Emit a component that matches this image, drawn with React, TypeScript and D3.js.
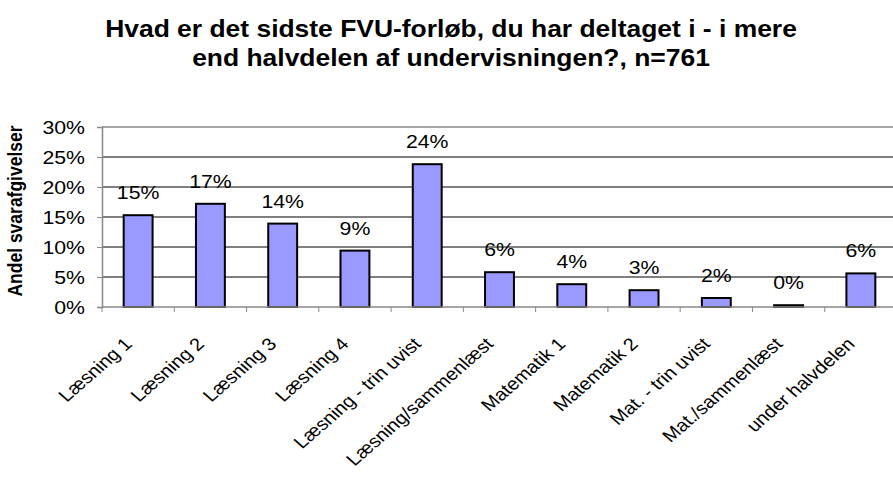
import React from 'react';
import * as d3 from 'd3';

const categories = [
  'Læsning 1',
  'Læsning 2',
  'Læsning 3',
  'Læsning 4',
  'Læsning - trin uvist',
  'Læsning/sammenlæst',
  'Matematik 1',
  'Matematik 2',
  'Mat. - trin uvist',
  'Mat./sammenlæst',
  'under halvdelen',
];
const values = [15.3, 17.2, 13.9, 9.4, 23.8, 5.8, 3.8, 2.8, 1.5, 0.3, 5.6];
const valueLabels = ['15%', '17%', '14%', '9%', '24%', '6%', '4%', '3%', '2%', '0%', '6%'];
const yTicks = [0, 5, 10, 15, 20, 25, 30];
const titleLines = [
  'Hvad er det sidste FVU-forløb, du har deltaget i - i mere',
  'end halvdelen af undervisningen?, n=761',
];

const W = 893;
const H = 486;
const FONT = 'Liberation Sans, Arial, sans-serif';
// the original picture is a bit wider than tall, so glyphs get stretched sideways
const SX = 1.15;

const App = () => {
  const ref = React.useRef<SVGSVGElement>(null);

  React.useEffect(() => {
    const svg = d3.select(ref.current);
    svg.selectAll('*').remove();

    const left = 102;
    const right = 897;
    const top = 127;
    const bottom = 307;

    const x = d3.scaleBand().domain(categories).range([left, right]).paddingInner(0).paddingOuter(0);
    const y = d3.scaleLinear().domain([0, 30]).range([bottom, top]);

    // title
    svg.append('g')
      .selectAll('text')
      .data(titleLines)
      .join('text')
      .attr('transform', (d, i) => `translate(451,${37 + i * 29}) scale(${SX},1)`)
      .attr('text-anchor', 'middle')
      .style('font', `bold 23px ${FONT}`)
      .attr('fill', '#000')
      .text((d) => d);

    // gridlines
    svg.append('g')
      .selectAll('line')
      .data(yTicks.slice(1))
      .join('line')
      .attr('x1', left)
      .attr('x2', right)
      .attr('y1', (d) => y(d))
      .attr('y2', (d) => y(d))
      .attr('stroke', (d) => (d === 30 ? '#888' : '#000'))
      .attr('stroke-width', (d) => (d === 30 ? 1.5 : 1));

    // y axis
    const yAxis = svg.append('g').attr('transform', `translate(${left},0)`)
      .call(d3.axisLeft(y).tickValues(yTicks).tickFormat(() => '').tickSize(5));
    yAxis.select('.domain').attr('stroke', '#888').attr('stroke-width', 1.5);
    yAxis.selectAll('.tick line').attr('stroke', '#888');
    svg.append('g')
      .selectAll('text')
      .data(yTicks)
      .join('text')
      .attr('transform', (d) => `translate(85,${y(d)}) scale(${SX},1)`)
      .attr('dy', '0.36em')
      .attr('text-anchor', 'end')
      .style('font', `18.5px ${FONT}`)
      .attr('fill', '#000')
      .text((d) => `${d}%`);

    // bars
    svg.append('g')
      .selectAll('rect')
      .data(values)
      .join('rect')
      .attr('x', (d, i) => x(categories[i])! + x.bandwidth() * 0.3)
      .attr('width', x.bandwidth() * 0.4)
      .attr('y', (d) => y(d))
      .attr('height', (d) => bottom - y(d))
      .attr('fill', '#9999FF')
      .attr('stroke', '#000')
      .attr('stroke-width', 2);

    // x axis
    const xAxis = svg.append('g').attr('transform', `translate(0,${bottom})`);
    xAxis.append('line')
      .attr('x1', left).attr('x2', right)
      .attr('stroke', '#888').attr('stroke-width', 1.5);
    xAxis.selectAll('line.tk')
      .data(d3.range(categories.length + 1))
      .join('line')
      .attr('class', 'tk')
      .attr('x1', (d) => left + d * x.step())
      .attr('x2', (d) => left + d * x.step())
      .attr('y1', 0)
      .attr('y2', 5)
      .attr('stroke', '#888');
    xAxis.selectAll('text')
      .data(categories)
      .join('text')
      .attr('transform', (d) => `translate(${x(d)! + x.bandwidth() / 2 - 5},${38}) scale(${SX},1) rotate(-45)`)
      .attr('text-anchor', 'end')
      .style('font', `17.5px ${FONT}`)
      .attr('fill', '#000')
      .text((d) => d);

    // value labels
    svg.append('g')
      .selectAll('text')
      .data(values)
      .join('text')
      .attr('transform', (d, i) => `translate(${x(categories[i])! + x.bandwidth() / 2},${y(d) - 16}) scale(${SX},1)`)
      .attr('text-anchor', 'middle')
      .style('font', `18.5px ${FONT}`)
      .attr('fill', '#000')
      .text((d, i) => valueLabels[i]);

    // y title
    svg.append('text')
      .attr('transform', `translate(22,211) scale(${SX},1) rotate(-90)`)
      .attr('text-anchor', 'middle')
      .style('font', `bold 17.5px ${FONT}`)
      .attr('fill', '#000')
      .text('Andel svarafgivelser');
  }, []);

  return (
    <svg
      ref={ref}
      width={W}
      height={H}
      style={{ position: 'absolute', left: 0, top: 0, background: '#fff', overflow: 'hidden' }}
    />
  );
};

export default App;
